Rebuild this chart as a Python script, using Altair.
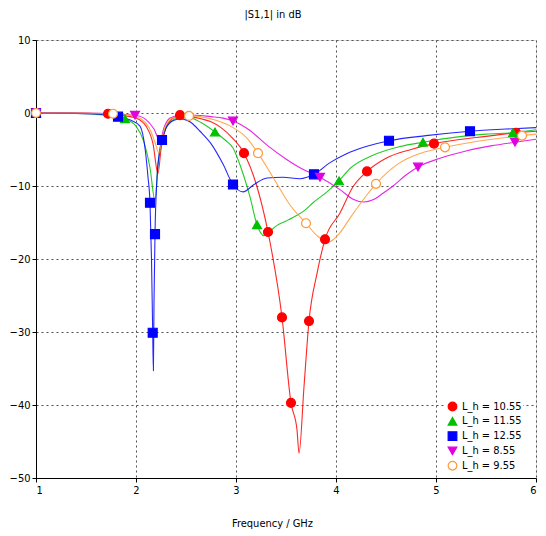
import altair as alt
import pandas as pd

FONT = "DejaVu Sans Condensed, DejaVu Sans"

series = ["L_h = 10.55", "L_h = 11.55", "L_h = 12.55", "L_h = 8.55", "L_h = 9.55"]
stroke_colors = ["#ff0000", "#00c000", "#0000ff", "#e000e0", "#ff9933"]
fill_colors = ["#ff0000", "#00c000", "#0000ff", "#e000e0", "#ffffff"]
shapes = ["circle", "triangle-up", "square", "triangle-down", "circle"]

# ---- curve samples (frequency GHz, |S11| dB) ----
red_f = [1.0, 1.3, 1.5, 1.72, 1.9, 2.0, 2.1, 2.17, 2.22, 2.25, 2.3, 2.36, 2.44, 2.55, 2.65, 2.75,
         2.85, 2.97, 3.08, 3.21, 3.32, 3.46, 3.55, 3.61, 3.63, 3.68, 3.73, 3.81, 3.89, 4.04, 4.17,
         4.31, 4.5, 4.75, 4.98, 5.2, 5.5, 5.8, 6.0]
red_db = [0, 0, -0.05, -0.1, -0.4, -0.7, -1.8, -4.2, -8.3, -5.0, -2.0, -0.8, -0.3, -0.5, -0.8, -1.2,
          -2.0, -3.5, -5.5, -10.1, -16.3, -28.0, -39.7, -43.4, -46.6, -37.5, -28.5, -22.0, -17.3, -13.7, -10.1,
          -8.0, -6.2, -5.0, -4.2, -3.7, -3.2, -2.7, -2.5]

green_f = [1.0, 1.4, 1.7, 1.89, 2.0, 2.08, 2.14, 2.19, 2.22, 2.26, 2.32, 2.45, 2.55, 2.65, 2.79,
           2.9, 2.97, 3.05, 3.14, 3.21, 3.28, 3.34, 3.41, 3.5, 3.61, 3.69, 3.77, 3.91, 4.03, 4.14,
           4.37, 4.64, 4.87, 5.2, 5.5, 5.77, 6.0]
green_db = [0, -0.05, -0.3, -0.8, -1.8, -4.0, -7.5, -12.0, -7.0, -3.7, -1.5, -0.6, -0.7, -1.3, -2.6,
            -3.8, -4.8, -7.5, -11.5, -15.3, -16.8, -16.2, -15.4, -14.8, -14.0, -13.3, -12.3, -10.8, -9.3, -7.6,
            -5.8, -4.6, -4.0, -3.3, -2.9, -2.7, -2.3]

blue_f = [1.0, 1.4, 1.7, 1.82, 1.95, 2.04, 2.09, 2.12, 2.14, 2.155, 2.167, 2.174, 2.18, 2.19, 2.21,
          2.235, 2.26, 2.3, 2.38, 2.45, 2.55, 2.64, 2.75, 2.87, 2.97, 3.07, 3.18, 3.31, 3.47, 3.64,
          3.78, 3.94, 4.1, 4.3, 4.53, 4.9, 5.34, 5.7, 6.0]
blue_db = [0, -0.05, -0.2, -0.5, -1.0, -1.8, -4.8, -8.8, -12.3, -20.0, -30.1, -35.3, -26.0, -16.6, -9.0,
           -5.3, -3.7, -2.1, -1.0, -0.8, -1.3, -2.5, -4.2, -7.0, -9.8, -10.8, -9.8, -8.9, -8.8, -9.0,
           -8.4, -6.8, -5.6, -4.6, -3.8, -3.1, -2.5, -2.2, -2.0]

mag_f = [1.0, 1.5, 1.99, 2.1, 2.18, 2.24, 2.28, 2.34, 2.45, 2.6, 2.75, 2.87, 2.97, 3.05, 3.14,
         3.31, 3.51, 3.64, 3.84, 4.04, 4.17, 4.28, 4.37, 4.47, 4.57, 4.7, 4.82, 5.04, 5.3, 5.55,
         5.79, 6.0]
mag_db = [0, 0, -0.3, -0.9, -2.2, -3.8, -2.0, -0.7, -0.3, -0.3, -0.5, -0.7, -1.1, -1.6, -2.4,
          -4.4, -6.4, -7.5, -8.8, -10.5, -11.8, -12.2, -11.9, -11.0, -10.0, -8.5, -7.4, -6.2, -5.2, -4.5,
          -4.0, -3.6]

orange_f = [1.0, 1.4, 1.77, 1.95, 2.05, 2.13, 2.19, 2.23, 2.26, 2.3, 2.38, 2.53, 2.64, 2.8, 2.97,
            3.1, 3.22, 3.37, 3.54, 3.70, 3.81, 3.92, 4.04, 4.14, 4.31, 4.40, 4.64, 4.85, 5.09, 5.4,
            5.86, 6.0]
orange_db = [0, 0, -0.1, -0.3, -0.8, -2.0, -4.0, -5.5, -3.5, -1.6, -0.6, -0.4, -0.5, -1.0, -2.0,
             -3.3, -5.5, -8.8, -12.6, -15.1, -16.8, -17.7, -16.4, -14.4, -11.2, -9.7, -6.8, -5.5, -4.7, -3.9,
             -3.1, -2.9]

# ---- marker samples ----
red_mf = [1.0, 1.72, 2.44, 3.08, 3.32, 3.46, 3.55, 3.73, 3.89, 4.31, 4.98, 5.80]
red_mdb = [0, -0.1, -0.3, -5.5, -16.3, -28.0, -39.7, -28.5, -17.3, -8.0, -4.2, -2.7]
green_mf = [1.0, 1.89, 2.79, 3.21, 4.03, 4.87, 5.77]
green_mdb = [0, -0.8, -2.6, -15.3, -9.3, -4.0, -2.7]
blue_mf = [1.0, 1.82, 2.14, 2.167, 2.19, 2.26, 2.97, 3.78, 4.53, 5.34]
blue_mdb = [0, -0.5, -12.3, -30.1, -16.6, -3.7, -9.8, -8.4, -3.8, -2.5]
mag_mf = [1.0, 1.99, 2.97, 3.84, 4.82, 5.79]
mag_mdb = [0, -0.3, -1.1, -8.8, -7.4, -4.0]
orange_mf = [1.0, 1.77, 2.53, 3.22, 3.70, 4.40, 5.09, 5.86]
orange_mdb = [0, -0.1, -0.4, -5.5, -15.1, -9.7, -4.7, -3.1]

curves = [(red_f, red_db), (green_f, green_db), (blue_f, blue_db), (mag_f, mag_db), (orange_f, orange_db)]
marks = [(red_mf, red_mdb), (green_mf, green_mdb), (blue_mf, blue_mdb), (mag_mf, mag_mdb), (orange_mf, orange_mdb)]

line_rows, mark_rows = [], []
for name, (fs, ds) in zip(series, curves):
    for f, d in zip(fs, ds):
        line_rows.append({"series": name, "f": f, "db": d})
for name, (fs, ds) in zip(series, marks):
    for f, d in zip(fs, ds):
        mark_rows.append({"series": name, "f": f, "db": d})
line_df = pd.DataFrame(line_rows)
mark_df = pd.DataFrame(mark_rows)

x_ticks = [1, 2, 3, 4, 5, 6]
y_ticks = [-50, -40, -30, -20, -10, 0, 10]

axis_common = dict(
    labelFont=FONT, labelFontSize=11, labelColor="black",
    titleFont=FONT, titleFontSize=11, titleFontWeight="normal", titleColor="black",
    domainColor="black", tickColor="black", tickSize=4, labelPadding=2,
    grid=True, gridColor="#505050", gridDash=[2, 3], gridWidth=1, gridOpacity=1,
)

x_enc = alt.X("f:Q", scale=alt.Scale(domain=[1, 6], nice=False, zero=False),
              axis=alt.Axis(values=x_ticks, title="Frequency / GHz", titleX=236, titlePadding=22,
                            format="d", **axis_common))
y_enc = alt.Y("db:Q", scale=alt.Scale(domain=[-50, 10], nice=False, zero=False),
              axis=alt.Axis(values=y_ticks, title=None, format="d", **axis_common))

legend = alt.Legend(title=None, orient="none", legendX=410, legendY=360,
                    labelFont=FONT, labelFontSize=11, labelColor="black",
                    symbolSize=75, symbolStrokeWidth=1.2, rowPadding=0.8, labelOffset=4,
                    symbolOpacity=1, fillColor="white", padding=1)

stroke_scale = alt.Scale(domain=series, range=stroke_colors)
fill_scale = alt.Scale(domain=series, range=fill_colors)
shape_scale = alt.Scale(domain=series, range=shapes)

lines = alt.Chart(line_df).mark_line(strokeWidth=1.1, interpolate="monotone", opacity=0.85).encode(
    x=x_enc, y=y_enc,
    stroke=alt.Stroke("series:N", scale=stroke_scale, legend=legend),
    detail="series:N",
)

points = alt.Chart(mark_df).mark_point(filled=False, size=80, strokeWidth=1.2, opacity=1,
                                        fillOpacity=1).encode(
    x=x_enc, y=y_enc,
    stroke=alt.Stroke("series:N", scale=stroke_scale, legend=legend),
    fill=alt.Fill("series:N", scale=fill_scale, legend=legend),
    shape=alt.Shape("series:N", scale=shape_scale, legend=legend),
)

chart = alt.layer(lines, points).properties(
    width=500, height=438,
    title=alt.Title("|S1,1| in dB", font=FONT, fontSize=11, fontWeight="normal", color="black",
                    offset=14, dx=-13),
    autosize=alt.AutoSizeParams(type="none"),
    padding={"left": 36, "top": 40, "right": 10, "bottom": 58},
).configure_view(
    stroke="black", strokeWidth=1
).configure(background="white")

chart.save("out.html", embed_options={"renderer": "svg", "actions": False})
